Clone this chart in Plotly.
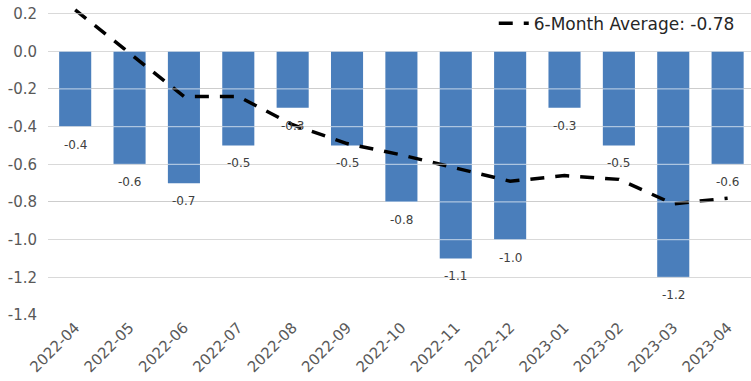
import plotly.graph_objects as go

months = ["2022-04", "2022-05", "2022-06", "2022-07", "2022-08", "2022-09", "2022-10",
          "2022-11", "2022-12", "2023-01", "2023-02", "2023-03", "2023-04"]
monthly = [-0.4, -0.6, -0.7, -0.5, -0.3, -0.5, -0.8, -1.1, -1.0, -0.3, -0.5, -1.2, -0.6]
avg6 = [0.22, -0.01, -0.24, -0.24, -0.39, -0.49, -0.55, -0.62, -0.69, -0.66, -0.68, -0.81, -0.78]
avg_name = "6-Month Average: -0.78"
y_ticks = [0.2, 0.0, -0.2, -0.4, -0.6, -0.8, -1.0, -1.2, -1.4]
y_tick_text = ["0.2", "0.0", "-0.2", "-0.4", "-0.6", "-0.8", "-1.0", "-1.2", "-1.4"]

BAR = "#4A7EBB"
GRID = "#ababab"
TXT = "#595959"
FONT = "DejaVu Sans"

fig = go.Figure()
fig.add_trace(go.Bar(x=months, y=monthly, marker=dict(color=BAR, line=dict(width=0)),
                     width=0.59, showlegend=False, hoverinfo="x+y"))
fig.add_trace(go.Scatter(x=months, y=avg6, mode="lines", name=avg_name,
                         line=dict(color="black", width=3.5, dash="14px,11px")))

# light gridlines showing through the bars, as in the reference
for v in y_ticks:
    fig.add_shape(type="line", xref="paper", x0=0, x1=1, yref="y", y0=v, y1=v,
                  line=dict(color="rgba(255,255,255,0.55)", width=1.3), layer="above")

# data labels below each bar
for m, v in zip(months, monthly):
    fig.add_annotation(x=m, y=v, text=f"{v:.1f}", showarrow=False, yshift=-18,
                       yanchor="middle", font=dict(family=FONT, size=12, color="#404040"))

fig.update_layout(
    width=751, height=381,
    margin=dict(l=48, r=0, t=7, b=66, autoexpand=False),
    plot_bgcolor="white", paper_bgcolor="white",
    bargap=0.41,
    font=dict(family=FONT, color=TXT),
    legend=dict(x=0.984, xanchor="right", y=0.946, yanchor="middle",
                bgcolor="rgba(0,0,0,0)", itemwidth=30,
                font=dict(family=FONT, size=17, color="#262626")),
    xaxis=dict(type="category", range=[-0.5, 12.43], showgrid=False, showline=False,
               zeroline=False, automargin=False,
               tickangle=-45, tickfont=dict(family=FONT, size=15, color=TXT), ticks=""),
    yaxis=dict(range=[-1.4, 0.235], showgrid=True, gridcolor=GRID, gridwidth=1.3,
               zeroline=False, showline=False, automargin=False,
               tickvals=y_ticks, ticktext=y_tick_text, ticks="", ticklabelstandoff=10,
               tickfont=dict(family=FONT, size=15, color=TXT)),
)

fig.write_html("out.html")
